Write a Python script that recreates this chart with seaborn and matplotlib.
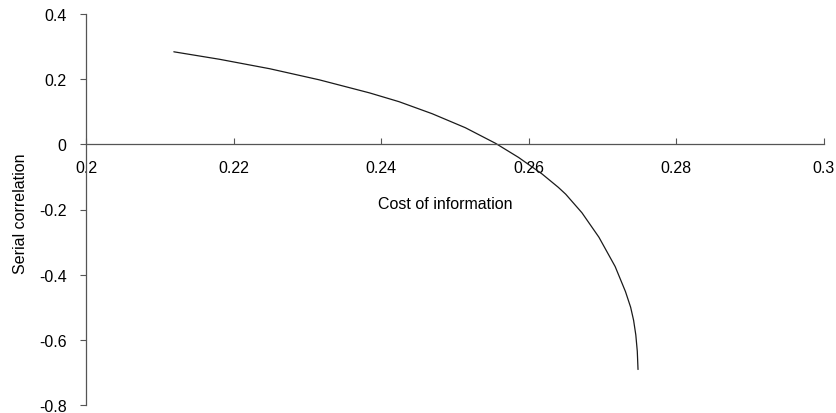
import matplotlib
matplotlib.use("Agg")
import matplotlib.pyplot as plt
import seaborn as sns
import pandas as pd

# Serial correlation as a function of the cost of information
cost = [0.2119, 0.2181, 0.2249, 0.2316, 0.2384, 0.2424, 0.2469, 0.2514,
        0.2555, 0.2586, 0.2618, 0.2640, 0.2650, 0.2672, 0.2695, 0.2717,
        0.2731, 0.2738, 0.2742, 0.2745, 0.2747, 0.2748]
serial_corr = [0.284, 0.261, 0.232, 0.198, 0.158, 0.131, 0.094, 0.051,
               0.003, -0.040, -0.091, -0.132, -0.153, -0.210, -0.285, -0.375,
               -0.452, -0.500, -0.540, -0.585, -0.635, -0.691]

x_ticks = [0.2, 0.22, 0.24, 0.26, 0.28, 0.3]
x_tick_labels = ["0.2", "0.22", "0.24", "0.26", "0.28", "0.3"]
y_ticks = [-0.8, -0.6, -0.4, -0.2, 0.0, 0.2, 0.4]
y_tick_labels = ["-0.8", "-0.6", "-0.4", "-0.2", "0", "0.2", "0.4"]

df = pd.DataFrame({"cost": cost, "serial_corr": serial_corr})

sns.set_style("white")
plt.rcParams["font.family"] = ["Liberation Sans", "DejaVu Sans"]

W, H = 836, 414
left_px, right_px, top_px, bottom_px = 86, 824.0, 15.0, 406.0

fig = plt.figure(figsize=(W / 100, H / 100), dpi=100)
ax = fig.add_axes([left_px / W, 1 - bottom_px / H,
                   (right_px - left_px) / W, (bottom_px - top_px) / H])

sns.lineplot(data=df, x="cost", y="serial_corr", sort=False, ax=ax,
             color="#1a1a1a", linewidth=0.9)

ax.set_xlim(0.2, 0.3)
ax.set_ylim(-0.8, 0.4)

axis_color = "#555555"
for side in ("top", "right"):
    ax.spines[side].set_visible(False)
ax.spines["left"].set_color(axis_color)
ax.spines["left"].set_linewidth(0.9)
ax.spines["bottom"].set_color(axis_color)
ax.spines["bottom"].set_linewidth(0.9)
ax.spines["bottom"].set_position(("data", 0.0))

ax.set_xticks(x_ticks)
ax.set_xticklabels(x_tick_labels)
ax.set_yticks(y_ticks)
ax.set_yticklabels(y_tick_labels)

fs = 11.5
ax.tick_params(axis="x", direction="in", length=4.5, width=0.8,
               color=axis_color, pad=11.5, labelsize=fs, labelcolor="black")
ax.tick_params(axis="y", direction="out", length=4.5, width=0.8,
               color=axis_color, pad=9.5, labelsize=fs, labelcolor="black")
ax.tick_params(left=True, bottom=True)

ax.set_xlabel("Cost of information", fontsize=fs, color="black")
ax.set_ylabel("Serial correlation", fontsize=fs, color="black")
ax.xaxis.set_label_coords(0.487, 0.535)
ax.yaxis.set_label_coords(-0.079, 0.492)

ax.grid(False)
fig.savefig("out.png", dpi=100)
